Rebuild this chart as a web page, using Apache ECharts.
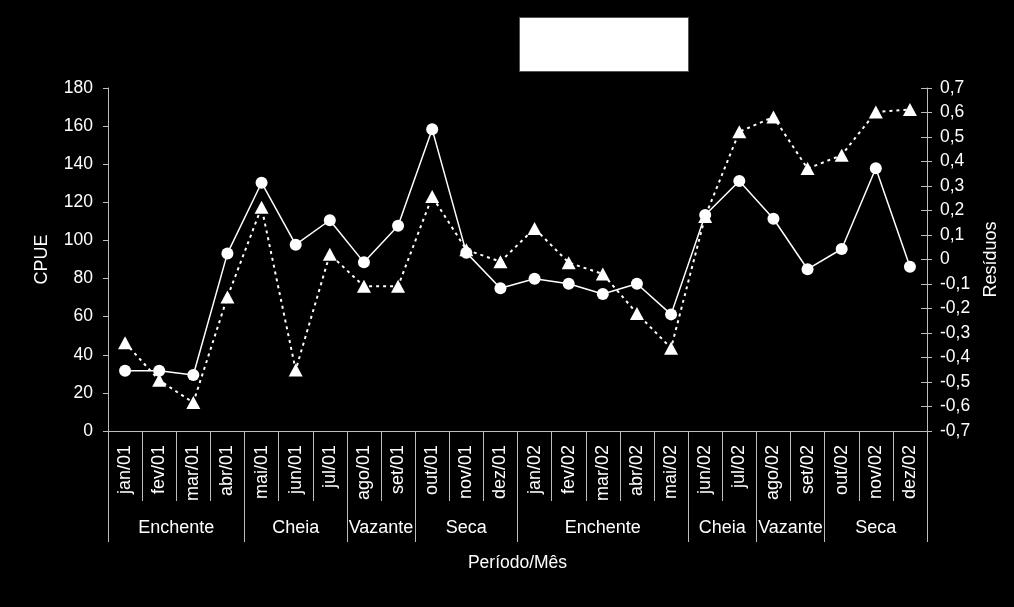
<!DOCTYPE html>
<html>
<head>
<meta charset="utf-8">
<script src="https://cdn.jsdelivr.net/npm/echarts@6/dist/echarts.min.js"></script>
<style>
html,body{margin:0;padding:0;background:#000;}
#c{width:1014px;height:607px;}
</style>
</head>
<body>
<div id="c"></div>
<script>
const months = ['jan/01','fev/01','mar/01','abr/01','mai/01','jun/01','jul/01','ago/01','set/01','out/01','nov/01','dez/01',
                'jan/02','fev/02','mar/02','abr/02','mai/02','jun/02','jul/02','ago/02','set/02','out/02','nov/02','dez/02'];
const cpue = [31.6,31.6,29.4,93.2,130.3,97.8,110.6,88.5,107.7,158.3,93.6,74.9,
              79.9,77.3,71.9,77.3,61.2,113.4,131.2,111.4,84.9,95.5,137.9,86.2];
const residuos = [-0.340,-0.493,-0.584,-0.153,0.213,-0.451,0.021,-0.109,-0.109,0.257,0.040,-0.009,
                  0.127,-0.013,-0.059,-0.220,-0.362,0.176,0.521,0.582,0.371,0.426,0.602,0.612];
const periodNames = ['Enchente','Cheia','Vazante','Seca','Enchente','Cheia','Vazante','Seca'];
const periodLengths = [4,3,2,3,5,2,2,3];

const bounds = [0];
periodLengths.forEach(n => bounds.push(bounds[bounds.length-1] + n));
const centers = periodLengths.map((n,i) => bounds[i] + n/2);
const centerName = {};
centers.forEach((c,i) => centerName[c] = periodNames[i]);

const FONT = 'Liberation Sans, Arial, sans-serif';
const axisCol = '#bdbdbd';

const chart = echarts.init(document.getElementById('c'));
chart.setOption({
  backgroundColor: '#000',
  animation: false,
  textStyle: {fontFamily: FONT, color: '#fff'},
  graphic: [{
    type: 'rect', left: 519, top: 17,
    shape: {width: 169, height: 54},
    style: {fill: '#fff', stroke: '#555', lineWidth: 1}
  }],
  grid: {left: 108, right: 87, top: 88, bottom: 176},
  xAxis: [{
    type: 'category',
    data: months,
    boundaryGap: true,
    position: 'bottom',
    name: 'Período/Mês',
    nameLocation: 'middle',
    nameGap: 123,
    nameTextStyle: {color: '#fff', fontSize: 17.5, fontFamily: FONT},
    axisLine: {onZero: false, lineStyle: {color: axisCol, width: 1}},
    axisTick: {show: true, interval: 0, length: 70, lineStyle: {color: axisCol}},
    axisLabel: {interval: 0, rotate: 90, margin: 14, color: '#fff', fontSize: 18, fontFamily: FONT}
  }, {
    type: 'value',
    min: 0, max: 24,
    position: 'bottom',
    axisLine: {show: false, onZero: false},
    splitLine: {show: false},
    axisTick: {show: true, customValues: bounds, length: 111, lineStyle: {color: axisCol}},
    axisLabel: {
      customValues: centers, margin: 88, color: '#fff', fontSize: 18, fontFamily: FONT,
      formatter: v => centerName[v] || ''
    }
  }],
  yAxis: [{
    type: 'value',
    min: 0, max: 180, interval: 20,
    position: 'left',
    name: 'CPUE',
    nameLocation: 'middle',
    nameRotate: 90,
    nameGap: 57,
    nameTextStyle: {color: '#fff', fontSize: 18, fontFamily: FONT},
    axisLine: {show: true, onZero: false, lineStyle: {color: axisCol}},
    axisTick: {show: true, length: 5, lineStyle: {color: axisCol}},
    splitLine: {show: false},
    axisLabel: {margin: 15, color: '#fff', fontSize: 17.5, fontFamily: FONT}
  }, {
    type: 'value',
    min: -0.7, max: 0.7, interval: 0.1,
    position: 'right',
    name: 'Resíduos',
    nameLocation: 'middle',
    nameRotate: 90,
    nameGap: 55,
    nameTextStyle: {color: '#fff', fontSize: 18, fontFamily: FONT},
    axisLine: {show: true, onZero: false, lineStyle: {color: axisCol}},
    axisTick: {show: true, length: 5, lineStyle: {color: axisCol}},
    splitLine: {show: false},
    axisLabel: {
      margin: 13, color: '#fff', fontSize: 17.5, fontFamily: FONT,
      formatter: v => { const r = Math.round(v*10)/10; return r === 0 ? '0' : r.toFixed(1).replace('.', ','); }
    }
  }, {
    type: 'value',
    min: -0.7, max: 0.7, interval: 0.1,
    position: 'right',
    axisLine: {show: false, onZero: false},
    axisTick: {show: true, inside: true, length: 6, lineStyle: {color: axisCol}},
    axisLabel: {show: false},
    splitLine: {show: false}
  }],
  series: [{
    name: 'Resíduos',
    type: 'line',
    xAxisIndex: 0, yAxisIndex: 1,
    data: residuos,
    symbol: 'triangle', symbolSize: [14, 13],
    itemStyle: {color: '#fff', borderWidth: 0},
    lineStyle: {color: '#fff', width: 2, type: [3, 4]},
    z: 2
  }, {
    name: 'CPUE',
    type: 'line',
    xAxisIndex: 0, yAxisIndex: 0,
    data: cpue,
    symbol: 'circle', symbolSize: 12,
    itemStyle: {color: '#fff', borderWidth: 0},
    lineStyle: {color: '#fff', width: 1.5},
    z: 3
  }]
});
</script>
</body>
</html>
